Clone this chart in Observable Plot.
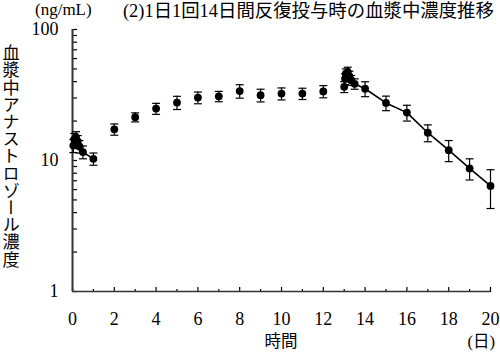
<!DOCTYPE html>
<html><head><meta charset="utf-8">
<script src="https://cdn.jsdelivr.net/npm/d3@7"></script>
<script src="https://cdn.jsdelivr.net/npm/@observablehq/plot@0.6"></script>
<style>body{margin:0;background:#fff} svg{display:block}</style>
</head><body><div id="chart"></div>
<script>
// Time (days)
const times = [0.04, 0.08, 0.17, 0.25, 0.33, 0.5, 1, 2, 3, 4, 5, 6, 7, 8, 9, 10, 11, 12,
  13, 13.04, 13.08, 13.17, 13.25, 13.33, 13.5, 14, 15, 16, 17, 18, 19, 20];
// Mean plasma concentration (ng/mL)
const means = [13.0, 14.5, 15.0, 14.0, 12.8, 11.6, 10.3, 17.3, 21.4, 24.9, 27.7, 30.2, 30.9, 33.9, 31.5, 32.4, 32.4, 33.7,
  36.5, 42.0, 46.0, 47.5, 44.0, 41.0, 38.5, 35.3, 27.5, 23.2, 16.3, 12.0, 8.7, 6.4];
// SD (ng/mL)
const sds = [1.5, 1.6, 1.6, 1.5, 1.4, 1.3, 1.1, 1.7, 1.7, 2.4, 3.2, 3.1, 2.8, 4.0, 3.5, 3.4, 3.2, 3.6,
  3.5, 4.0, 4.0, 4.0, 4.0, 3.5, 3.5, 4.6, 3.5, 3.2, 2.4, 2.2, 1.6, 2.1];
// Connected profile (first dose / last dose), "" = not connected
const segments = ["d1","d1","d1","d1","d1","d1","d1","","","","","","","","","","","",
  "","d14","d14","d14","d14","d14","d14","d14","d14","d14","d14","d14","d14","d14"];

const yTicks = [1,2,3,4,5,6,7,8,9,10,20,30,40,50,60,70,80,90,100];
const yLabels = [1, 10, 100];
const xMajor = [0,2,4,6,8,10,12,14,16,18,20];
const xMinor = [1,3,5,7,9,11,13,15,17,19];

const titleText = "(2)1日1回14日間反復投与時の血漿中濃度推移";
const unitText = "(ng/mL)";
const yTitle = "血漿中アナストロゾール濃度";
const xTitle = "時間";
const xUnit = "(日)";

const data = times.map((t, i) => ({t, v: means[i], lo: means[i] - sds[i], hi: means[i] + sds[i], seg: segments[i]}));

const cap = {draw(ctx, size) { const r = Math.sqrt(size / Math.PI); ctx.moveTo(-r, 0); ctx.lineTo(r, 0); }};
const serif = "'Liberation Serif', 'Noto Sans CJK JP', serif";
const cjk = "'Noto Sans CJK JP', sans-serif";

const plot = Plot.plot({
  width: 500, height: 352,
  marginLeft: 72, marginRight: 10, marginTop: 29, marginBottom: 61,
  style: {fontFamily: serif, fontSize: "18px", background: "#fff", color: "#000", overflow: "visible"},
  x: {domain: [0, 20], axis: null},
  y: {type: "log", domain: [1, 100], axis: null},
  marks: [
    Plot.axisY({ticks: yTicks, anchor: "right", frameAnchor: "left", tickSize: 4, fill: "none", label: null, stroke: "#000", strokeWidth: 1.2}),
    Plot.axisY({ticks: yLabels, anchor: "left", tickSize: 0, tickPadding: 14, tickFormat: d => String(d), label: null, fontSize: 18}),
    Plot.axisX({ticks: xMinor, anchor: "top", frameAnchor: "bottom", tickSize: 3, fill: "none", label: null, stroke: "#000", strokeWidth: 1.2}),
    Plot.axisX({ticks: xMajor, anchor: "top", frameAnchor: "bottom", tickSize: 5, fill: "none", label: null, stroke: "#000", strokeWidth: 1.2}),
    Plot.axisX({ticks: xMajor, anchor: "bottom", tickSize: 0, tickPadding: 21, tickFormat: d => String(d), label: null, fontSize: 18}),
    Plot.ruleX([0], {stroke: "#333", strokeWidth: 2}),
    Plot.ruleY([1], {stroke: "#333", strokeWidth: 1.6}),
    Plot.ruleX(data, {x: "t", y1: "lo", y2: "hi", stroke: "#000", strokeWidth: 1.2}),
    Plot.dot(data, {x: "t", y: "lo", symbol: cap, r: 4, stroke: "#000", strokeWidth: 1.2}),
    Plot.dot(data, {x: "t", y: "hi", symbol: cap, r: 4, stroke: "#000", strokeWidth: 1.2}),
    Plot.line(data.filter(d => d.seg), {x: "t", y: "v", z: "seg", stroke: "#000", strokeWidth: 1.6}),
    Plot.dot(data, {x: "t", y: "v", r: 3.9, fill: "#000", stroke: null})
  ]
});

const svg = d3.select(plot);
svg.append("text").attr("x", 35).attr("y", 15).attr("text-anchor", "start").attr("font-size", 17).attr("fill", "#000")
  .attr("font-family", serif).text(unitText);
svg.append("text").attr("x", 123).attr("y", 17).attr("text-anchor", "start").attr("font-size", 18.4).attr("fill", "#000")
  .attr("font-family", serif).text(titleText);
svg.append("text").attr("x", 11).attr("y", 44).attr("text-anchor", "start").attr("font-size", 17.2).attr("fill", "#000")
  .attr("font-family", cjk)
  .style("writing-mode", "vertical-rl").text(yTitle);
svg.append("text").attr("x", 281).attr("y", 347).attr("text-anchor", "middle").attr("font-size", 16.5).attr("fill", "#000")
  .attr("font-family", cjk).text(xTitle);
svg.append("text").attr("x", 495).attr("y", 347).attr("text-anchor", "end").attr("font-size", 16.5).attr("fill", "#000")
  .attr("font-family", serif).text(xUnit);

document.getElementById("chart").appendChild(plot);
</script>
</body></html>
